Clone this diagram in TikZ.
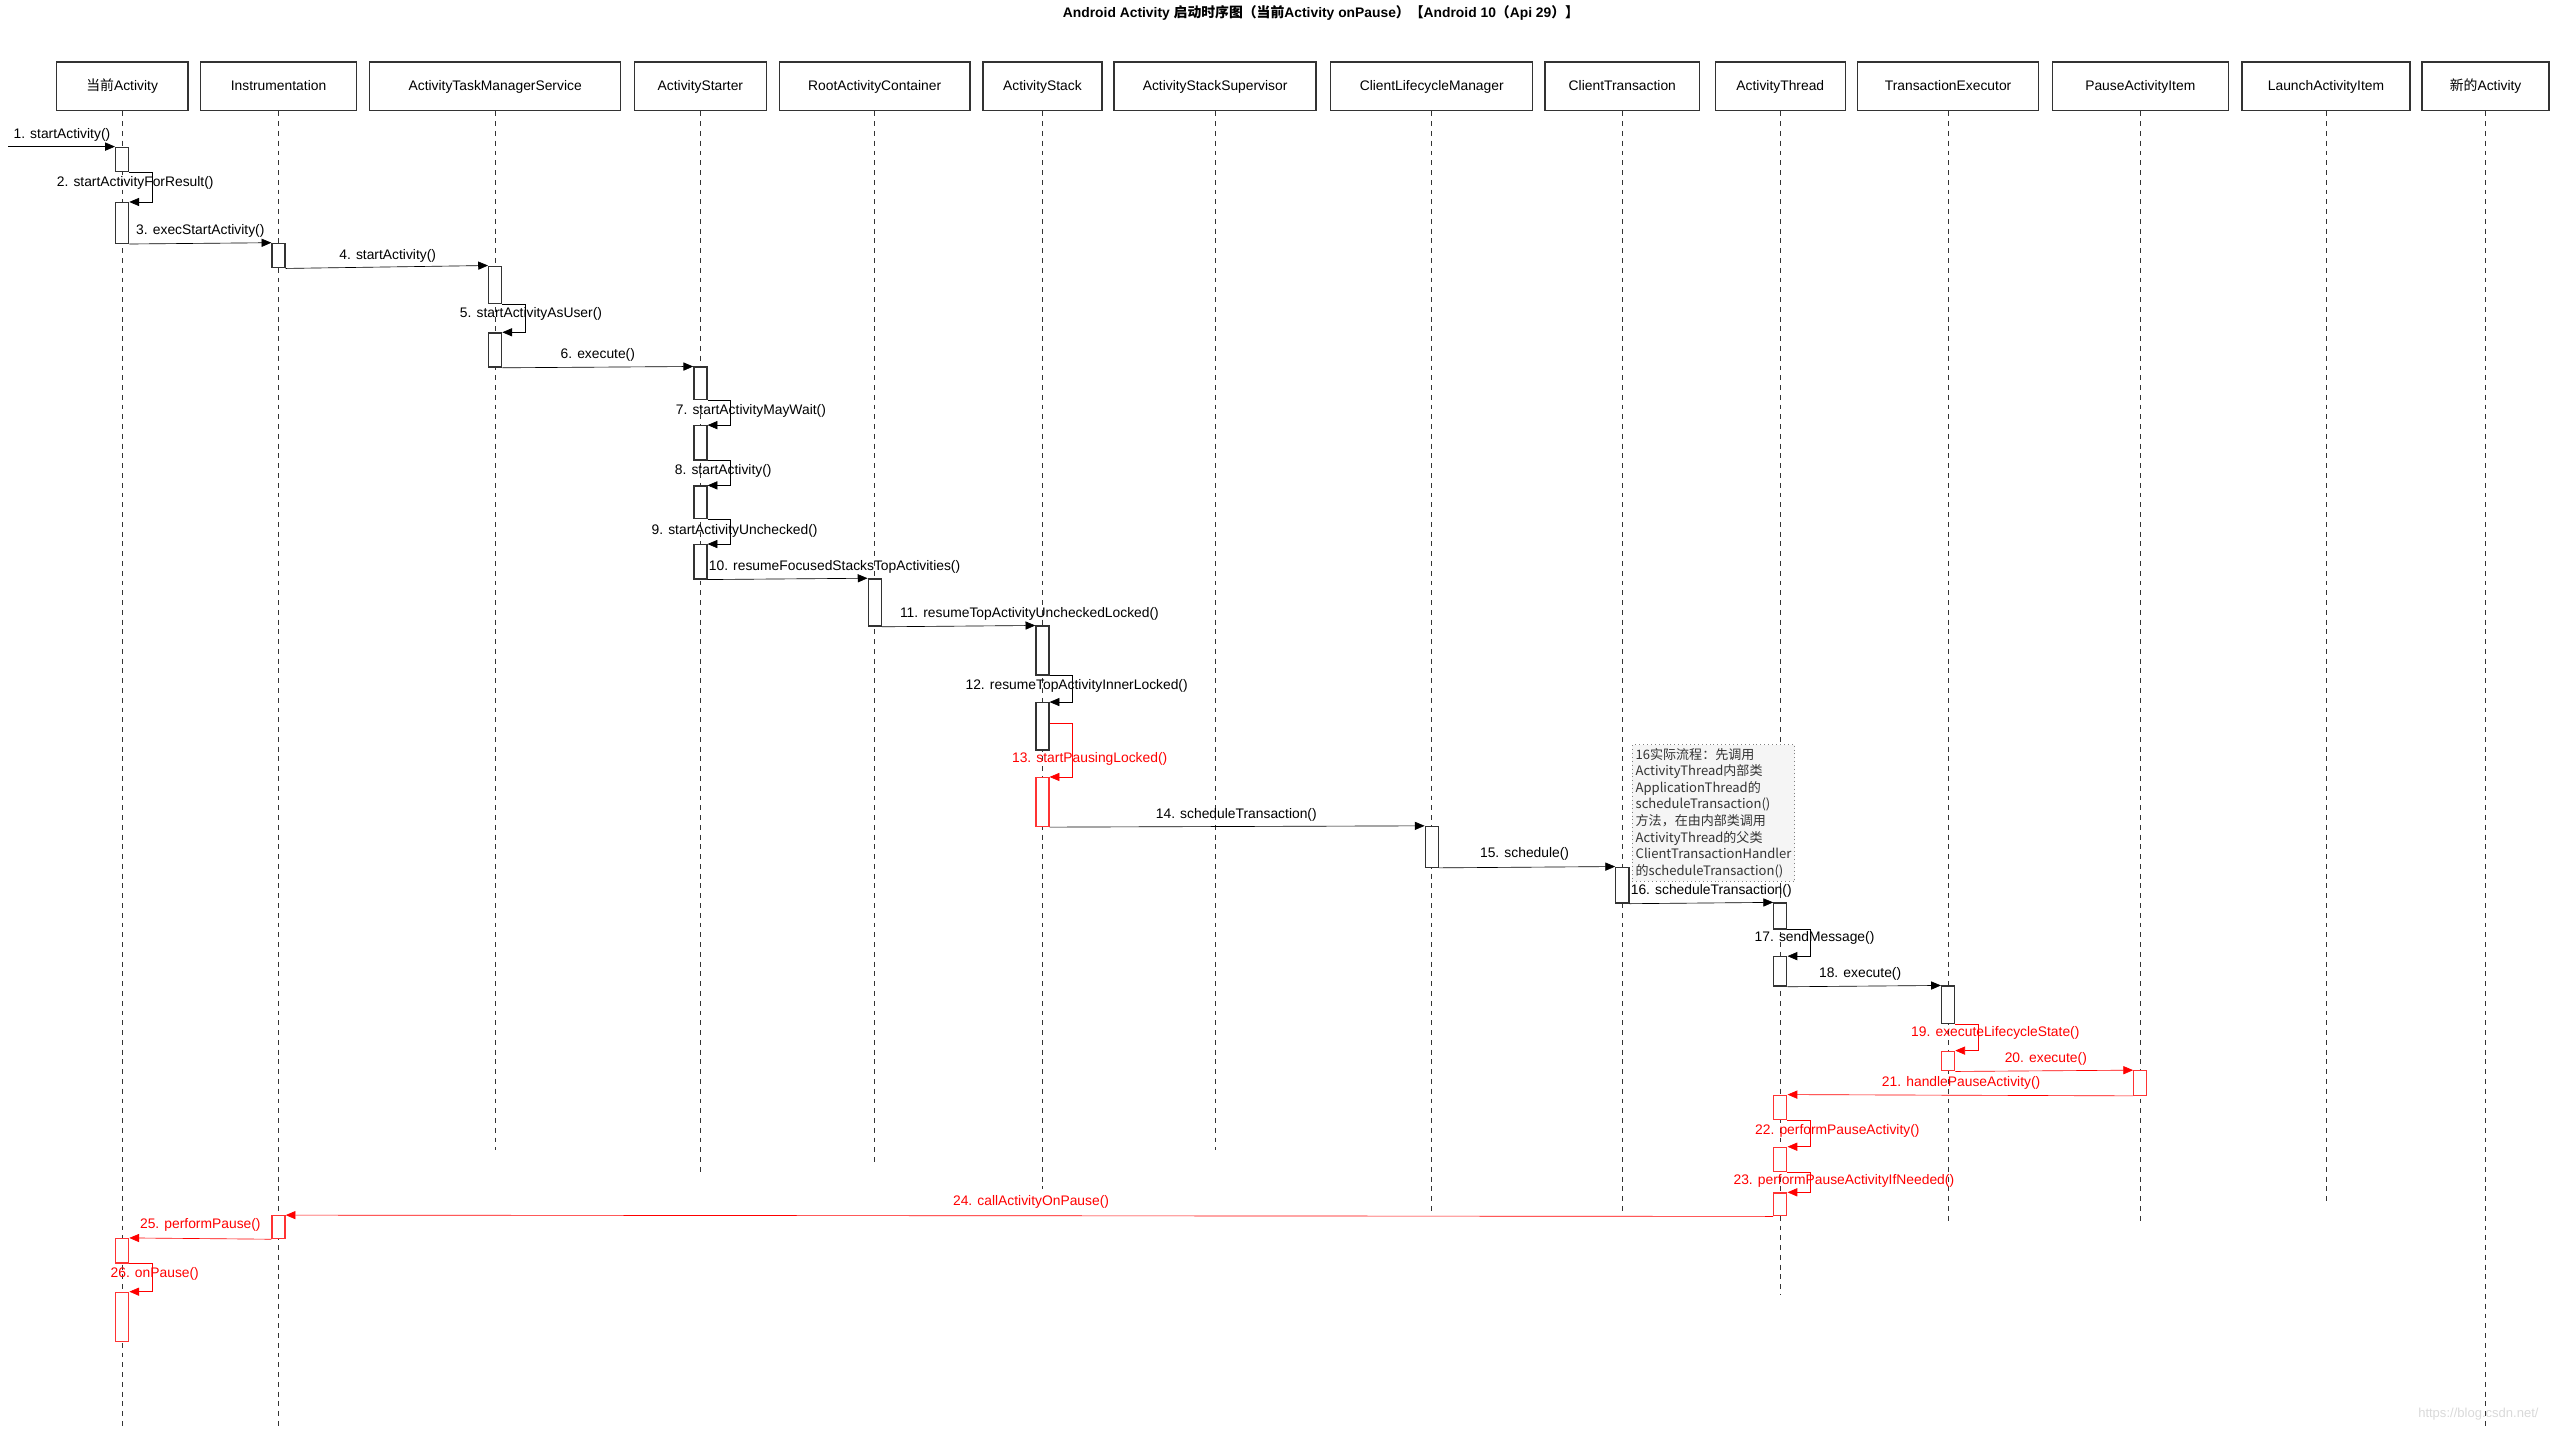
\documentclass[tikz,border=0pt]{standalone}
\usepackage{fontspec}
\setmainfont{Liberation Sans}
\newfontfamily\cjk{Noto Sans CJK SC}
\usetikzlibrary{arrows.meta,positioning}

\tikzset{
    head/.style={draw=black!80, thick, minimum height=30pt, inner sep=2pt, text height=7pt, text depth=2pt, font=\fontsize{8.5}{10}\selectfont},
    life/.style={dashed, thin, black!80},
    act/.style={draw=black!80, fill=white, thick, minimum width=8pt, inner sep=0pt, anchor=north},
    redact/.style={act, draw=red!80},
    msg/.style={thin, -{Triangle[length=6pt,width=5pt]}},
    redmsg/.style={msg, red},
    lbl/.style={font=\fontsize{8.5}{10}\selectfont, inner sep=1pt},
    redlbl/.style={lbl, text=red},
}

% activation box: name, x, top, bottom, style
\newcommand\actv[5]{\node[#5, minimum height={(#4-#3)*1pt}] (#1) at (#2,#3) {};}

\begin{document}
\begin{tikzpicture}[x=1pt, y=-1pt]
    \useasboundingbox (0,0) rectangle (1568,879);

    \node[font=\fontsize{8.5}{10}\selectfont\bfseries] (title) at (811,8)
        {Android Activity {\cjk 启动时序图（当前}Activity onPause{\cjk ）【}Android 10{\cjk （}Api 29{\cjk ）】}};

    % lifeline heads
    \node[head, minimum width=81pt]  (cur)  at (75,53)   {{\cjk 当前}Activity};
    \node[head, minimum width=96pt]  (ins)  at (171,53)  {Instrumentation};
    \node[head, minimum width=154pt] (atms) at (304,53)  {ActivityTaskManagerService};
    \node[head, minimum width=81pt]  (ast)  at (430,53)  {ActivityStarter};
    \node[head, minimum width=117pt] (rac)  at (537,53)  {RootActivityContainer};
    \node[head, minimum width=73pt]  (ask)  at (640,53)  {ActivityStack};
    \node[head, minimum width=124pt] (ass)  at (746,53)  {ActivityStackSupervisor};
    \node[head, minimum width=124pt] (clm)  at (879,53)  {ClientLifecycleManager};
    \node[head, minimum width=95pt]  (ct)   at (996,53)  {ClientTransaction};
    \node[head, minimum width=80pt]  (at)   at (1093,53) {ActivityThread};
    \node[head, minimum width=111pt] (te)   at (1196,53) {TransactionExecutor};
    \node[head, minimum width=108pt] (pai)  at (1314,53) {PauseActivityItem};
    \node[head, minimum width=103pt] (lai)  at (1428,53) {LaunchActivityItem};
    \node[head, minimum width=78pt]  (nact) at (1526,53) {{\cjk 新的}Activity};

    % lifelines
    \foreach \n/\e in {cur/878, ins/878, atms/706, ast/722, rac/716, ask/730, ass/706,
                       clm/745, ct/745, at/795, te/750, pai/750, lai/738, nact/878}
        \draw[life] (\n.south) -- (\n.south |- 0,\e);

    % activations
    \actv{c1}{75}{90}{105}{act}
    \actv{c2}{75}{124}{149}{act}
    \actv{i1}{171}{149}{164}{act}
    \actv{m1}{304}{163}{186}{act}
    \actv{m2}{304}{204}{225}{act}
    \actv{s1}{430}{225}{245}{act}
    \actv{s2}{430}{261}{282}{act}
    \actv{s3}{430}{298}{318}{act}
    \actv{s4}{430}{334}{355}{act}
    \actv{r1}{537}{355}{384}{act}
    \actv{k1}{640}{384}{414}{act}
    \actv{k2}{640}{431}{460}{act}
    \actv{k3}{640}{477}{507}{redact}
    \actv{g1}{879}{507}{532}{act}
    \actv{t1}{996}{532}{554}{act}
    \actv{a1}{1093}{554}{570}{act}
    \actv{a2}{1093}{587}{605}{act}
    \actv{e1}{1196}{605}{628}{act}
    \actv{e2}{1196}{645}{657}{redact}
    \actv{p1}{1314}{657}{672}{redact}
    \actv{a3}{1093}{672}{687}{redact}
    \actv{a4}{1093}{704}{719}{redact}
    \actv{a5}{1093}{732}{746}{redact}
    \actv{i2}{171}{746}{760}{redact}
    \actv{c3}{75}{760}{775}{redact}
    \actv{c4}{75}{793}{823}{redact}

    \coordinate (start) at (5,90);

    % messages
    \draw[msg] (start) -- (c1.north west);
    \node[lbl] (lb1) at (38,83) {1. startActivity()};
    \draw[msg] (c1.south east) -- ++(14,0) |- (c2.north east);
    \node[lbl] (lb2) at (83,112) {2. startActivityForResult()};
    \draw[msg] (c2.south east) -- (i1.north west);
    \node[lbl] (lb3) at (123,142) {3. execStartActivity()};
    \draw[msg] (i1.south east) -- (m1.north west);
    \node[lbl] (lb4) at (238,157) {4. startActivity()};
    \draw[msg] (m1.south east) -- ++(14,0) |- (m2.north east);
    \node[lbl] (lb5) at (326,193) {5. startActivityAsUser()};
    \draw[msg] (m2.south east) -- (s1.north west);
    \node[lbl] (lb6) at (367,218) {6. execute()};
    \draw[msg] (s1.south east) -- ++(14,0) |- (s2.north east);
    \node[lbl] (lb7) at (461,252) {7. startActivityMayWait()};
    \draw[msg] (s2.south east) -- ++(14,0) |- (s3.north east);
    \node[lbl] (lb8) at (444,289) {8. startActivity()};
    \draw[msg] (s3.south east) -- ++(14,0) |- (s4.north east);
    \node[lbl] (lb9) at (451,326) {9. startActivityUnchecked()};
    \draw[msg] (s4.south east) -- (r1.north west);
    \node[lbl, anchor=west] (lb10) at (434,348) {10. resumeFocusedStacksTopActivities()};
    \draw[msg] (r1.south east) -- (k1.north west);
    \node[lbl] (lb11) at (632,377) {11. resumeTopActivityUncheckedLocked()};
    \draw[msg] (k1.south east) -- ++(14,0) |- (k2.north east);
    \node[lbl] (lb12) at (661,421) {12. resumeTopActivityInnerLocked()};
    \draw[redmsg] (k2.east |- 0,444) -- ++(14,0) |- (k3.north east);
    \node[redlbl] (lb13) at (669,466) {13. startPausingLocked()};
    \draw[msg] (k3.south east) -- (g1.north west);
    \node[lbl] (lb14) at (759,500) {14. scheduleTransaction()};
    \draw[msg] (g1.south east) -- (t1.north west);
    \node[lbl] (lb15) at (936,524) {15. schedule()};
    \draw[msg] (t1.south east) -- (a1.north west);
    \node[lbl, anchor=west] (lb16) at (1000,547) {16. scheduleTransaction()};
    \draw[msg] (a1.south east) -- ++(14,0) |- (a2.north east);
    \node[lbl] (lb17) at (1114,576) {17. sendMessage()};
    \draw[msg] (a2.south east) -- (e1.north west);
    \node[lbl] (lb18) at (1142,598) {18. execute()};
    \draw[redmsg] (e1.south east) -- ++(14,0) |- (e2.north east);
    \node[redlbl] (lb19) at (1225,634) {19. executeLifecycleState()};
    \draw[redmsg] (e2.south east) -- (p1.north west);
    \node[redlbl] (lb20) at (1256,650) {20. execute()};
    \draw[redmsg] (p1.south west) -- (a3.north east);
    \node[redlbl] (lb21) at (1204,665) {21. handlePauseActivity()};
    \draw[redmsg] (a3.south east) -- ++(14,0) |- (a4.north east);
    \node[redlbl] (lb22) at (1128,694) {22. performPauseActivity()};
    \draw[redmsg] (a4.south east) -- ++(14,0) |- (a5.north east);
    \node[redlbl] (lb23) at (1132,725) {23. performPauseActivityIfNeeded()};
    \draw[redmsg] (a5.south west) -- (i2.north east);
    \node[redlbl] (lb24) at (633,738) {24. callActivityOnPause()};
    \draw[redmsg] (i2.south west) -- (c3.north east);
    \node[redlbl] (lb25) at (123,752) {25. performPause()};
    \draw[redmsg] (c3.south east) -- ++(14,0) |- (c4.north east);
    \node[redlbl] (lb26) at (95,782) {26. onPause()};

    % note
    \node[draw=black!50, dotted, fill=black!4, anchor=north west, inner sep=2pt,
          align=left, font=\fontsize{8}{10.2}\selectfont\cjk, text=black!80]
        (note) at (1002,457)
        {16实际流程：先调用\\ActivityThread内部类\\ApplicationThread的\\scheduleTransaction()\\方法，在由内部类调用\\ActivityThread的父类\\ClientTransactionHandler\\的scheduleTransaction()};

    \node[font=\fontsize{8}{10}\selectfont, text=black!15, anchor=east] (wm) at (1562,868) {https://blog.csdn.net/};
\end{tikzpicture}
\end{document}
